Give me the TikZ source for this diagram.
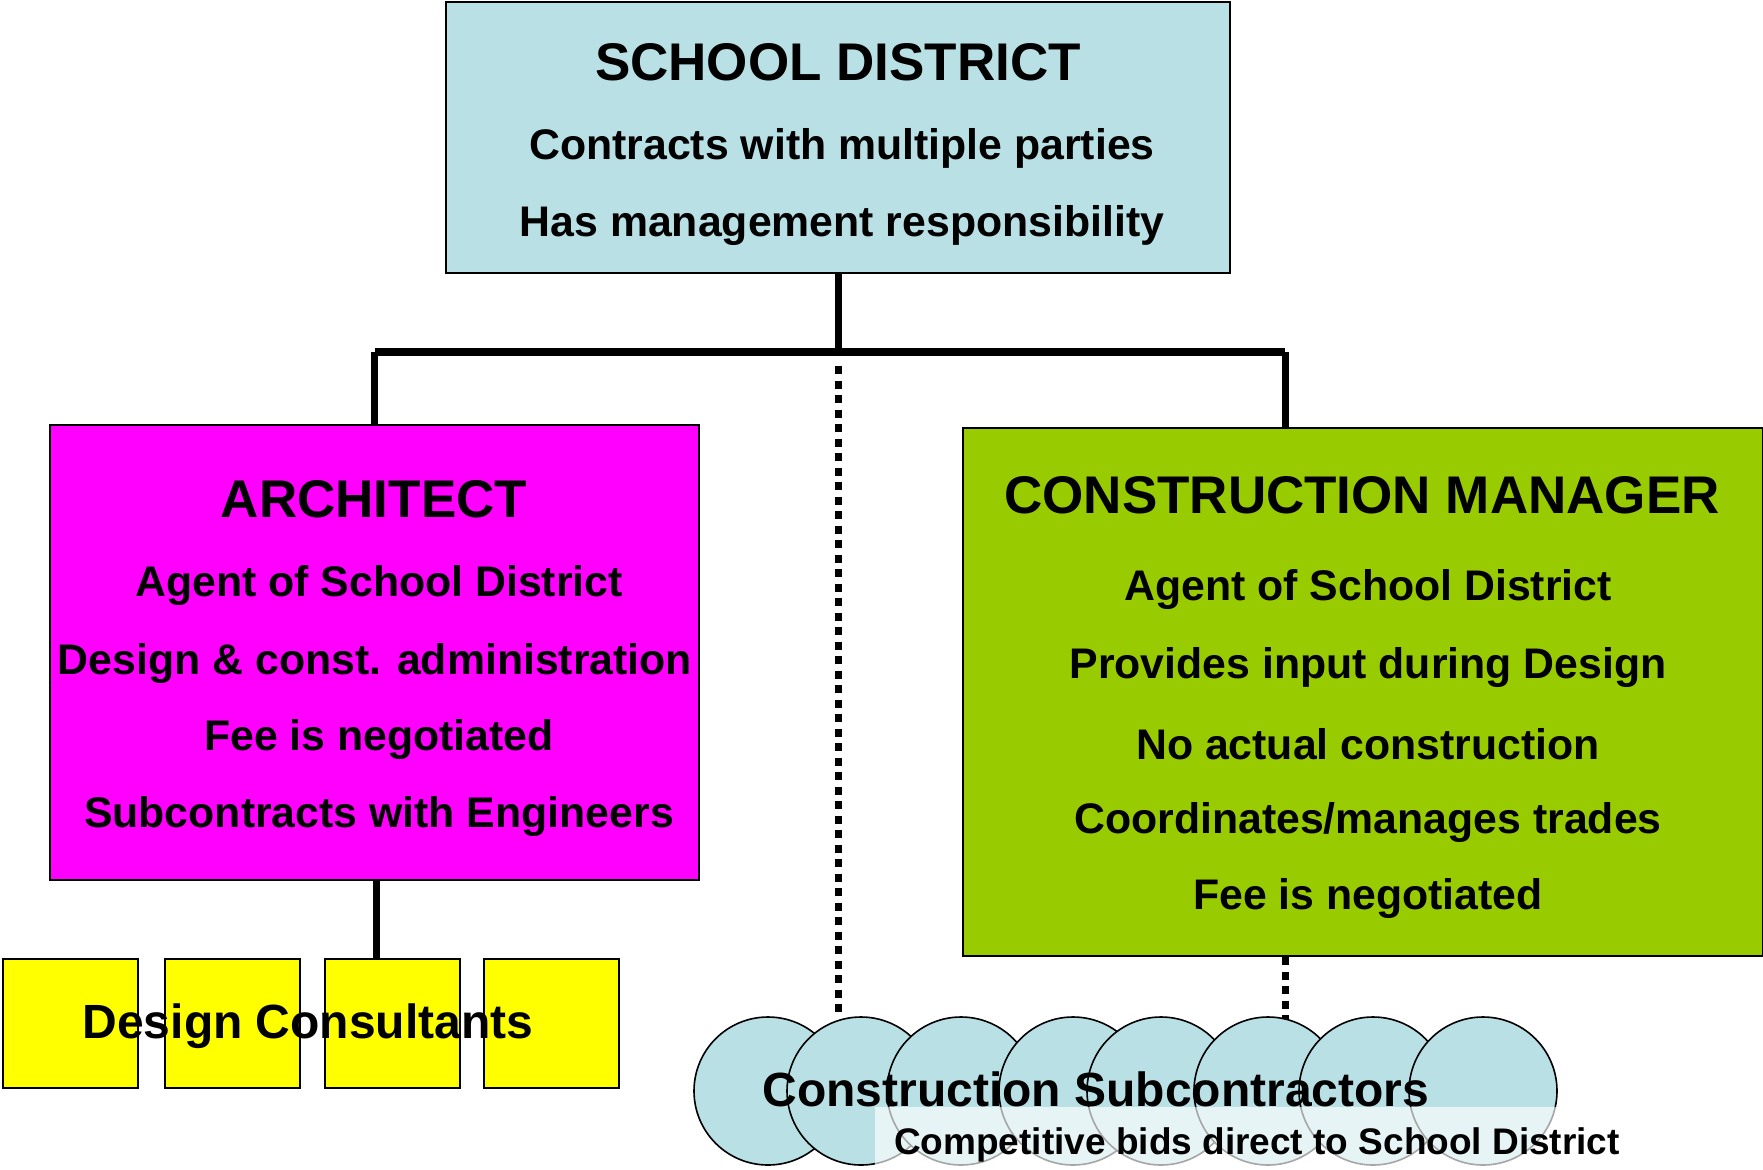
\documentclass[tikz,border=0pt]{standalone}
\usepackage{fontspec}
\setmainfont{Liberation Sans}
\definecolor{districtblue}{RGB}{185,224,228}
\definecolor{archmagenta}{RGB}{255,0,255}
\definecolor{cmgreen}{RGB}{153,204,0}
\definecolor{consultyellow}{RGB}{255,255,0}
\usetikzlibrary{positioning}

\begin{document}
\begin{tikzpicture}[x=0.5pt,y=-0.5pt,
  box/.style={draw,line width=1pt,inner sep=0pt,anchor=north west},
  head/.style={font=\bfseries\fontsize{26.5}{30}\selectfont},
  item/.style={font=\bfseries\fontsize{21.4}{25}\selectfont},
  group/.style={font=\bfseries\fontsize{24}{28}\selectfont},
  link/.style={line width=3.5pt},
  dotlink/.style={line width=3.5pt,dash pattern=on 4pt off 3.25pt},
  subc/.style={draw,line width=0.8pt,fill=districtblue,circle,minimum size=74pt,inner sep=0pt}]
\useasboundingbox (0,0) rectangle (1763,1169);

% boxes
\node[box,fill=districtblue,minimum width=392pt,minimum height=135.5pt] (sd) at (445,1) {};
\node[box,fill=archmagenta,minimum width=324.5pt,minimum height=227.5pt] (arch) at (49,424) {};
\node[box,fill=cmgreen,minimum width=400pt,minimum height=264pt] (cm) at (962,427) {};
\foreach \x [count=\i] in {2,164,324,483}
  \node[box,fill=consultyellow,minimum width=67.5pt,minimum height=64.5pt] (dc\i) at (\x,958) {};

% connectors
\coordinate (jn) at (838,352);
\coordinate (cmdrop) at (1285,352);
\coordinate (archdrop) at (376,879);
\coordinate (dotstart) at (838,366);
\coordinate (dotend) at (838,1018);
\coordinate (cmdotend) at (1285,1020);
\draw[link] (sd.south) -- (jn);
\draw[line width=4pt] (arch.north |- jn) -- (cmdrop);
\draw[link] (arch.north |- jn) -- (arch.north);
\draw[link] (cmdrop) -- (cmdrop |- cm.north);
\draw[link] (archdrop) -- (archdrop |- dc3.north);
\draw[dotlink] (dotstart) -- (dotend);
\draw[dotlink] (cmdrop |- cm.south) -- (cmdotend);

% subcontractors
\foreach \x [count=\i] in {768,861,961,1073,1161,1268,1373,1483}
  \node[subc] (sc\i) at (\x,1091) {};
\fill[white,opacity=0.65] (875,1107) rectangle (1557,1169);

% texts
\node[head] (sdtitle) at (838,62) {SCHOOL DISTRICT};
\node[item] (sdline1) at (842,148) {Contracts with multiple parties};
\node[item] (sdline2) at (842,226) {Has management responsibility};

\node[head] (archtitle) at (374,499) {ARCHITECT};
\node[item] (archline1) at (379,586) {Agent of School District};
\node[item] (archline2) at (375,664) {Design \& const. administration};
\node[item] (archline3) at (379,740) {Fee is negotiated};
\node[item] (archline4) at (379,817) {Subcontracts with Engineers};

\node[head] (cmtitle) at (1362,495) {CONSTRUCTION MANAGER};
\node[item] (cmline1) at (1368,590) {Agent of School District};
\node[item] (cmline2) at (1368,668) {Provides input during Design};
\node[item] (cmline3) at (1368,744) {No actual construction};
\node[item] (cmline4) at (1368,823) {Coordinates/manages trades};
\node[item] (cmline5) at (1368,899) {Fee is negotiated};

\node[group] (dclabel) at (308,1026) {Design Consultants};
\node[group] (sclabel) at (1096,1089) {Construction Subcontractors};
\node[font=\bfseries\fontsize{18.5}{22}\selectfont] (bids) at (1257,1145) {Competitive bids direct to School District};
\end{tikzpicture}
\end{document}
